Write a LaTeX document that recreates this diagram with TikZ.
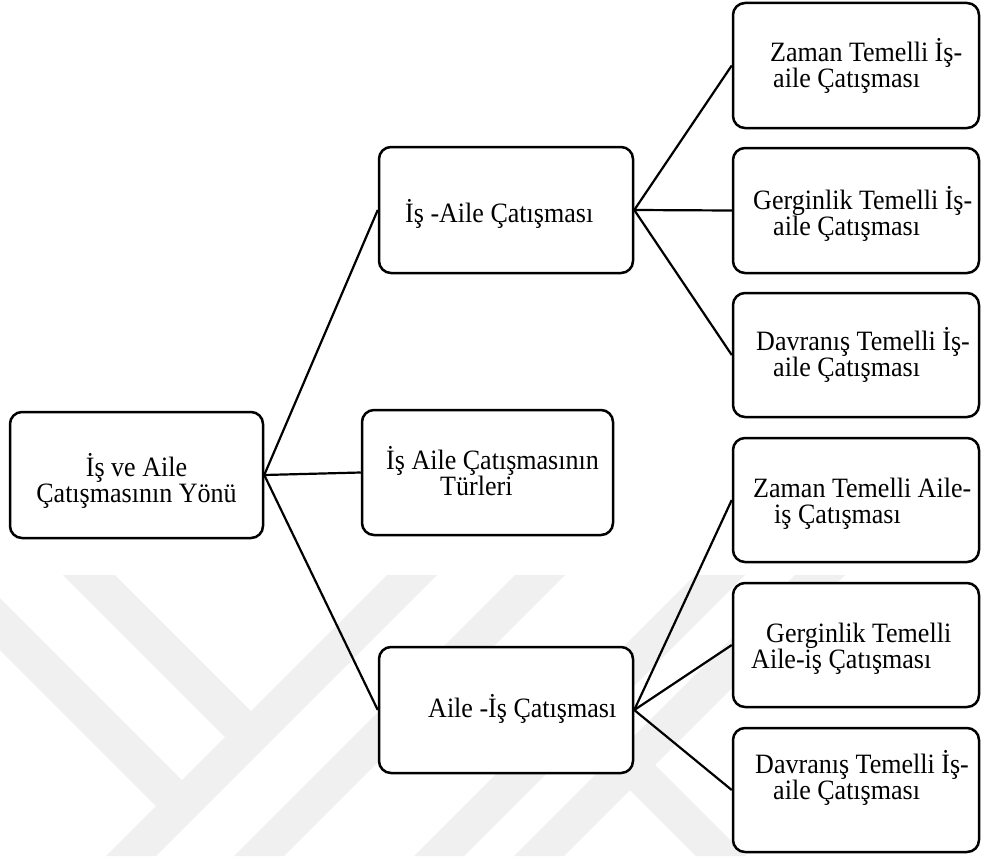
\documentclass[tikz,border=0pt]{standalone}
\usepackage{fontspec}
\setmainfont[FakeStretch=0.93]{Liberation Serif}
\begin{document}
\begin{tikzpicture}[x=1pt,y=-1pt,
  box/.style={draw, fill=white, line width=2.5pt, rounded corners=12pt, inner sep=0pt},
  lbl/.style={inner sep=0pt, align=left, anchor=base west, font=\fontsize{28}{26}\selectfont},
  link/.style={line width=2.2pt},
  wm/.style={fill=black!6}
]
\useasboundingbox (0,0) rectangle (981,856);
\fill[white] (0,0) rectangle (981,856);

% faint background emblem
\begin{scope}
  \clip (0,575) rectangle (981,856);
  \fill[wm] (-23,575) -- (182,780) -- (156,806) -- (-75,575) -- cycle;
  \fill[wm] (63,575) -- (115,575) -- (251,711) -- (225,737) -- cycle;
  \fill[wm] (387,575) -- (437,575) -- (156,856) -- (106,856) -- cycle;
  \fill[wm] (515,575) -- (565,575) -- (284,856) -- (234,856) -- cycle;
  \fill[wm] (695,575) -- (745,575) -- (464,856) -- (414,856) -- cycle;
  \fill[wm] (795,575) -- (845,575) -- (564,856) -- (514,856) -- cycle;
  \fill[wm] (610,720) -- (746,856) -- (696,856) -- (585,745) -- cycle;
\end{scope}

% boxes
\node[box, minimum width=253pt, minimum height=126pt] (root)   at (136.5,475) {};
\node[box, minimum width=254pt, minimum height=126pt] (isaile) at (506,210) {};
\node[box, minimum width=251pt, minimum height=125pt] (turler) at (487.5,472.5) {};
\node[box, minimum width=254pt, minimum height=126pt] (aileis) at (506,710) {};
\node[box, minimum width=246pt, minimum height=125pt] (r1) at (856,65.5) {};
\node[box, minimum width=246pt, minimum height=125pt] (r2) at (856,210.5) {};
\node[box, minimum width=246pt, minimum height=124pt] (r3) at (856,355) {};
\node[box, minimum width=246pt, minimum height=124pt] (r4) at (856,500) {};
\node[box, minimum width=246pt, minimum height=124pt] (r5) at (856,645) {};
\node[box, minimum width=246pt, minimum height=124pt] (r6) at (856,790) {};

% connectors
\draw[link] (root.east) -- (isaile.west);
\draw[link] (root.east) -- (turler.west);
\draw[link] (root.east) -- (aileis.west);
\draw[link] (isaile.east) -- (r1.west);
\draw[link] (isaile.east) -- (r2.west);
\draw[link] (isaile.east) -- (r3.west);
\draw[link] (aileis.east) -- (r4.west);
\draw[link] (aileis.east) -- (r5.west);
\draw[link] (aileis.east) -- (r6.west);

% texts (base anchor sits on the last line)
\node[lbl, align=center, anchor=base] (troot) at (136.5,502) {İş ve Aile\\Çatışmasının Yönü};
\node[lbl] (tisaile) at (405,222) {İş -Aile Çatışması};
\node[lbl] (tturler) at (386,495) {İş Aile Çatışmasının\\\hspace*{54pt}Türleri};
\node[lbl] (taileis) at (428,717) {Aile -İş Çatışması};
\node[lbl] (tr1) at (770,88) {Zaman Temelli İş-\\\hspace*{3pt}aile Çatışması};
\node[lbl] (tr2) at (753,235) {Gerginlik Temelli İş-\\\hspace*{20pt}aile Çatışması};
\node[lbl] (tr3) at (756,376) {Davranış Temelli İş-\\\hspace*{17pt}aile Çatışması};
\node[lbl] (tr4) at (753,523) {Zaman Temelli Aile-\\\hspace*{21pt}iş Çatışması};
\node[lbl] (tr5) at (751,668) {\hspace*{15pt}Gerginlik Temelli\\Aile-iş Çatışması};
\node[lbl] (tr6) at (755,799) {Davranış Temelli İş-\\\hspace*{18pt}aile Çatışması};
\end{tikzpicture}
\end{document}
